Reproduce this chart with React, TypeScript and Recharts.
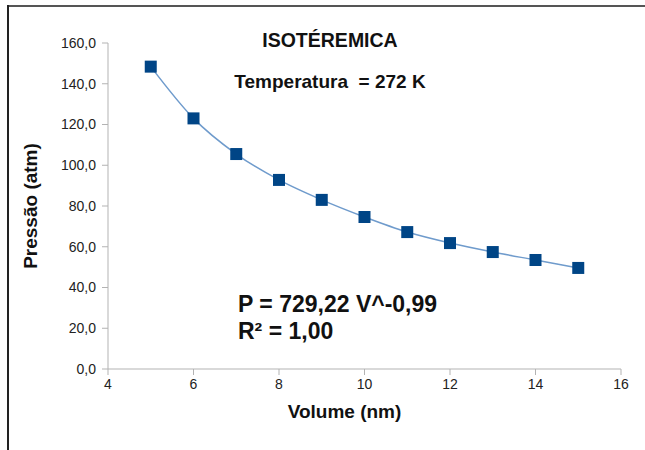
import React from "react";
import {
  ComposedChart,
  Line,
  XAxis,
  YAxis,
} from "recharts";

const volumes = [5, 6, 7, 8, 9, 10, 11, 12, 13, 14, 15];
const pressures = [148.4, 123, 105.5, 92.8, 83, 74.6, 67.2, 61.8, 57.4, 53.5, 49.6];
const xTicks = [4, 6, 8, 10, 12, 14, 16];
const yTicks = [0, 20, 40, 60, 80, 100, 120, 140, 160];

const data = volumes.map((v, i) => ({ v, p: pressures[i] }));

const font = "'Liberation Sans', Arial, sans-serif";
const axisGrey = "#b3b3b3";

const SquareDot = (props: any) => {
  const { cx, cy, index } = props;
  if (cx == null || cy == null) return null;
  return (
    <rect
      key={`sq-${index}`}
      x={cx - 6}
      y={cy - 6}
      width={12}
      height={12}
      fill="#004586"
    />
  );
};

export default function App() {
  return (
    <div
      style={{
        position: "absolute",
        left: 0,
        top: 0,
        width: 645,
        height: 450,
        background: "#fff",
        fontFamily: font,
      }}
    >
      {/* frame: only top and left edges show in the original */}
      <div style={{ position: "absolute", left: 7, top: 5, width: 638, height: 2, background: "#555" }} />
      <div style={{ position: "absolute", left: 7, top: 5, width: 2, height: 445, background: "#222" }} />
      <ComposedChart
        width={645}
        height={450}
        data={data}
        margin={{ top: 43, right: 24, bottom: 51, left: 0 }}
        style={{ position: "absolute", left: 0, top: 0 }}
      >
        <XAxis
          type="number"
          dataKey="v"
          domain={[4, 16]}
          ticks={xTicks}
          interval={0}
          height={30}
          stroke={axisGrey}
          tickSize={6}
          tickMargin={4}
          tick={{ fill: "#222", fontSize: 14, fontFamily: font }}
          label={{
            value: "Volume (nm)",
            position: "bottom",
            offset: 6,
            dx: -20,
            fill: "#111",
            fontSize: 19,
            fontWeight: "bold",
            fontFamily: font,
          }}
        />
        <YAxis
          type="number"
          domain={[0, 160]}
          ticks={yTicks}
          interval={0}
          width={108}
          stroke={axisGrey}
          tickSize={6}
          tickMargin={6}
          tickFormatter={(t: number) => t.toFixed(1).replace(".", ",")}
          tick={{ fill: "#222", fontSize: 14, fontFamily: font }}
          label={{
            value: "Pressão (atm)",
            angle: -90,
            position: "center",
            dx: -24,
            fill: "#111",
            fontSize: 19,
            fontWeight: "bold",
            fontFamily: font,
          }}
        />
        <Line
          type="monotone"
          dataKey="p"
          stroke="#6f9bcc"
          strokeWidth={1.5}
          dot={SquareDot}
          activeDot={false}
          isAnimationActive={false}
        />
      </ComposedChart>
      <div
        style={{
          position: "absolute",
          left: 0,
          width: 660,
          top: 28,
          textAlign: "center",
          fontSize: 19.5,
          fontWeight: "bold",
          color: "#111",
          lineHeight: "24px",
        }}
      >
        ISOTÉREMICA
      </div>
      <div
        style={{
          position: "absolute",
          left: 0,
          width: 660,
          top: 70,
          textAlign: "center",
          fontSize: 19,
          fontWeight: "bold",
          color: "#111",
          lineHeight: "24px",
          whiteSpace: "pre",
        }}
      >
        {"Temperatura  = 272 K"}
      </div>
      <div
        style={{
          position: "absolute",
          left: 238,
          top: 291,
          fontSize: 23,
          fontWeight: "bold",
          color: "#111",
          lineHeight: "27px",
        }}
      >
        <div>P = 729,22 V^-0,99</div>
        <div>R² = 1,00</div>
      </div>
    </div>
  );
}
